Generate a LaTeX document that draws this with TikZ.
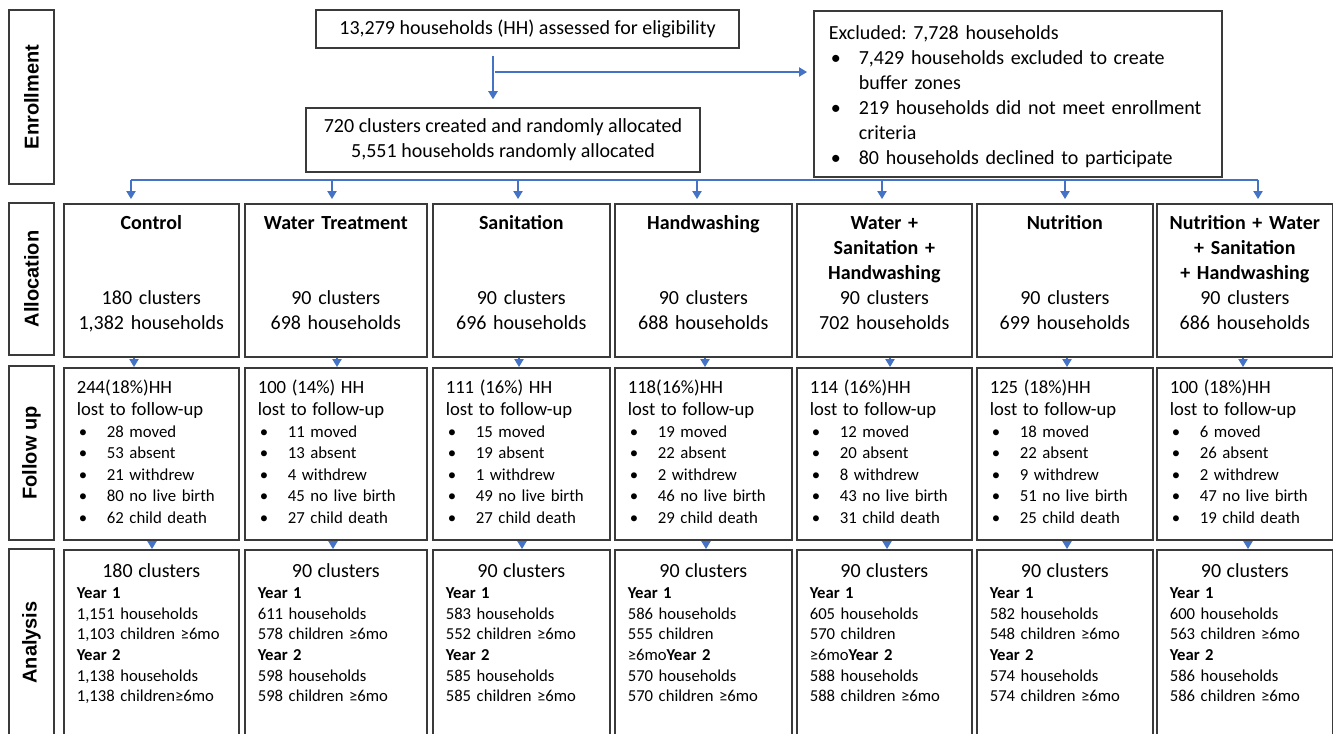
\documentclass[tikz,border=0pt]{standalone}
\usepackage{fontspec}
\setmainfont{Carlito}
\newfontfamily\sidefont{Liberation Sans}
\usepackage{tikz}
\usetikzlibrary{arrows.meta,calc,positioning}
\frenchspacing

\definecolor{flowblue}{HTML}{4472C4}
\definecolor{boxgray}{HTML}{3A3A3A}
\newlength{\px}\setlength{\px}{0.75pt}
% font sizes (px -> pt)
\newcommand{\fbig}{\fontsize{15pt}{18.75pt}\selectfont}
\newcommand{\ffh}{\fontsize{14pt}{16.2pt}\selectfont}
\newcommand{\ffu}{\fontsize{12.6pt}{16.2pt}\selectfont}
\newcommand{\fan}{\fontsize{12.5pt}{15.5pt}\selectfont}
\newcommand{\itm}[1]{\makebox[30\px][l]{\hspace{2\px}\textbullet}#1}
\newcommand{\clus}[1]{\makebox[\linewidth]{\fbig #1}}

\begin{document}
\begin{tikzpicture}[
        x=0.75pt, y=-0.75pt,
        arr/.style={draw=flowblue, line width=1pt, -{Triangle[length=6pt,width=7pt]}},
        flow/.style={draw=flowblue, line width=1pt}]

        \tikzset{
            box/.style={draw=boxgray, line width=1.2pt, inner ysep=0pt, anchor=north west},
            side/.style={draw=boxgray, line width=1.2pt, inner sep=0pt, rotate=90,
                minimum height=45\px, font=\sidefont\bfseries\fbig},
            top/.style={draw=boxgray, line width=1.2pt, inner sep=0pt, align=center, font=\fbig},
            alloc/.style={box, inner xsep=8\px, align=center, font=\fbig,
                text height=26\px, text depth=127\px},
            fu/.style={box, inner xsep=13\px, align=left, font=\ffu,
                text height=26\px, text depth=146\px},
            an/.style={box, inner xsep=13\px, align=left, font=\fan,
                text height=28\px, text depth=187\px}
        }
        \useasboundingbox (0,0) rectangle (1333,733);

        % stage labels
        \node[side, minimum width=174\px] (enr) at (31.5,97) {Enrollment};
        \node[side, minimum width=152\px] (alc) at (31.5,279) {Allocation};
        \node[side, minimum width=174\px] (fol) at (31.5,453) {Follow up};
        \node[side, minimum width=187\px] (ana) at (31.5,642.5) {Analysis};

        % enrollment
        \node[top, minimum width=423\px, minimum height=38\px] (elig) at (527.5,29)
            {13,279 households (HH) assessed for eligibility};
        \node[top, minimum width=394\px, minimum height=64\px] (rand) at (503,140)
            {720 clusters created and randomly allocated\\5,551 households randomly allocated};
        \node[box, inner xsep=15\px, text width=378\px, align=left, font=\fbig,
            text height=29\px, text depth=137\px] (excl) at (813,10)
            {Excluded: 7,728 households\\
             \itm{7,429 households excluded to create}\\
             \hspace*{30\px}buffer zones\\
             \itm{219 households did not meet enrollment}\\
             \hspace*{30\px}criteria\\
             \itm{80 households declined to participate}};

        % allocation
        \node[alloc, text width=159\px] (al1) at (63,203)
            {\textbf{Control}\\[50\px]180 clusters\\1,382 households};
        \node[alloc, text width=166\px] (al2) at (244,203)
            {\textbf{Water Treatment}\\[50\px]90 clusters\\698 households};
        \node[alloc, text width=161\px] (al3) at (432,203)
            {\textbf{Sanitation}\\[50\px]90 clusters\\696 households};
        \node[alloc, text width=161\px] (al4) at (614,203)
            {\textbf{Handwashing}\\[50\px]90 clusters\\688 households};
        \node[alloc, text width=159\px] (al5) at (796,203)
            {\textbf{Water +}\\\textbf{Sanitation +}\\\textbf{Handwashing}\\90 clusters\\702 households};
        \node[alloc, text width=160\px] (al6) at (976,203)
            {\textbf{Nutrition}\\[50\px]90 clusters\\699 households};
        \node[alloc, text width=160\px] (al7) at (1156,203)
            {\textbf{Nutrition + Water}\\\textbf{+ Sanitation}\\\textbf{+ Handwashing}\\90 clusters\\686 households};

        % follow up
        \node[fu, text width=149\px] (fu1) at (63,367)
            {{\ffh 244(18\%)HH}\\{\ffh lost to follow-up}\\\itm{28 moved}\\\itm{53 absent}\\
             \itm{21 withdrew}\\\itm{80 no live birth}\\\itm{62 child death}};
        \node[fu, text width=156\px] (fu2) at (244,367)
            {{\ffh 100 (14\%) HH}\\{\ffh lost to follow-up}\\\itm{11 moved}\\\itm{13 absent}\\
             \itm{4 withdrew}\\\itm{45 no live birth}\\\itm{27 child death}};
        \node[fu, text width=151\px] (fu3) at (432,367)
            {{\ffh 111 (16\%) HH}\\{\ffh lost to follow-up}\\\itm{15 moved}\\\itm{19 absent}\\
             \itm{1 withdrew}\\\itm{49 no live birth}\\\itm{27 child death}};
        \node[fu, text width=151\px] (fu4) at (614,367)
            {{\ffh 118(16\%)HH}\\{\ffh lost to follow-up}\\\itm{19 moved}\\\itm{22 absent}\\
             \itm{2 withdrew}\\\itm{46 no live birth}\\\itm{29 child death}};
        \node[fu, text width=149\px] (fu5) at (796,367)
            {{\ffh 114 (16\%)HH}\\{\ffh lost to follow-up}\\\itm{12 moved}\\\itm{20 absent}\\
             \itm{8 withdrew}\\\itm{43 no live birth}\\\itm{31 child death}};
        \node[fu, text width=150\px] (fu6) at (976,367)
            {{\ffh 125 (18\%)HH}\\{\ffh lost to follow-up}\\\itm{18 moved}\\\itm{22 absent}\\
             \itm{9 withdrew}\\\itm{51 no live birth}\\\itm{25 child death}};
        \node[fu, text width=150\px] (fu7) at (1156,367)
            {{\ffh 100 (18\%)HH}\\{\ffh lost to follow-up}\\\itm{6 moved}\\\itm{26 absent}\\
             \itm{2 withdrew}\\\itm{47 no live birth}\\\itm{19 child death}};

        % analysis
        \node[an, text width=149\px] (an1) at (63,549)
            {\clus{180 clusters}\\\textbf{Year 1}\\1,151 households\\1,103 children ≥6mo\\
             \textbf{Year 2}\\1,138 households\\1,138 children≥6mo};
        \node[an, text width=156\px] (an2) at (244,549)
            {\clus{90 clusters}\\\textbf{Year 1}\\611 households\\578 children ≥6mo\\
             \textbf{Year 2}\\598 households\\598 children ≥6mo};
        \node[an, text width=151\px] (an3) at (432,549)
            {\clus{90 clusters}\\\textbf{Year 1}\\583 households\\552 children ≥6mo\\
             \textbf{Year 2}\\585 households\\585 children ≥6mo};
        \node[an, text width=151\px] (an4) at (614,549)
            {\clus{90 clusters}\\\textbf{Year 1}\\586 households\\555 children\\
             ≥6mo\textbf{Year 2}\\570 households\\570 children ≥6mo};
        \node[an, text width=149\px] (an5) at (796,549)
            {\clus{90 clusters}\\\textbf{Year 1}\\605 households\\570 children\\
             ≥6mo\textbf{Year 2}\\588 households\\588 children ≥6mo};
        \node[an, text width=150\px] (an6) at (976,549)
            {\clus{90 clusters}\\\textbf{Year 1}\\582 households\\548 children ≥6mo\\
             \textbf{Year 2}\\574 households\\574 children ≥6mo};
        \node[an, text width=150\px] (an7) at (1156,549)
            {\clus{90 clusters}\\\textbf{Year 1}\\600 households\\563 children ≥6mo\\
             \textbf{Year 2}\\586 households\\586 children ≥6mo};

        % connectors
        \coordinate (br) at (493,72);
        \draw[arr, shorten <=7\px, shorten >=8\px] (br |- elig.south) -- (br |- rand.north);
        \draw[arr, shorten <=2\px, shorten >=6\px] (br) -- (br -| excl.west);

        \coordinate (dl) at (131,180);
        \coordinate (dr) at (1258,180);
        \draw[flow] (dl) -- (dr);
        \foreach \i/\x in {1/131,2/332,3/518,4/697,5/882,6/1065,7/1258}{
            \coordinate (d\i) at (\x,180);
            \draw[arr, shorten >=4\px] (d\i) -- (d\i |- al\i.north);
        }
        \foreach \i/\xa/\xb in {1/134/152,2/337/333,3/519/522,4/705/706,5/890/887,6/1067/1067,7/1243/1248}{
            \coordinate (a\i) at (\xa,0);
            \coordinate (b\i) at (\xb,0);
            \draw[arr] (a\i |- al\i.south) -- (a\i |- fu\i.north);
            \draw[arr] (b\i |- fu\i.south) -- (b\i |- an\i.north);
        }
    \end{tikzpicture}
\end{document}
